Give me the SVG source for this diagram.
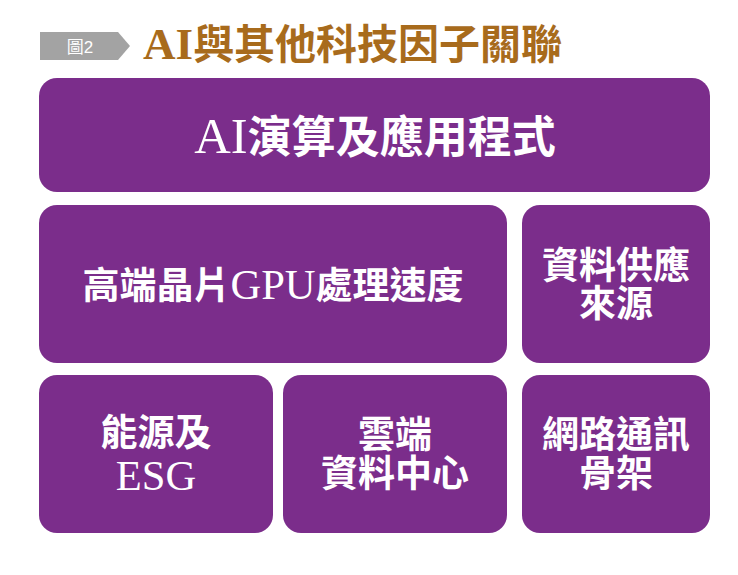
<svg xmlns="http://www.w3.org/2000/svg" width="738" height="575" viewBox="0 0 738 575">
<style>
.box{fill:#7b2d8b}
.t{fill:#fff;font-family:"Liberation Serif","Noto Sans CJK TC",serif;font-weight:bold;text-anchor:middle}
.big{font-size:44px}
.mid{font-size:37px}
.lat{font-weight:normal;font-size:1.15em}
</style>
<rect width="738" height="575" fill="#fff"/>
<g id="header">
<polygon points="40,32 118,32 130,46 118,60 40,60" fill="#a3a3a3"/>
<text x="80" y="53" fill="#fff" font-family="'Liberation Sans','Noto Sans CJK TC',sans-serif" font-size="17" text-anchor="middle">圖2</text>
<text x="143" y="59" fill="#a86b1c" font-family="'Liberation Serif','Noto Sans CJK TC',serif" font-weight="bold" font-size="41"><tspan font-size="1.1em">AI</tspan>與其他科技因子關聯</text>
</g>
<g id="n1"><rect class="box" x="39" y="78" width="671" height="114" rx="18"/><text class="t big" x="375" y="153"><tspan class="lat">AI</tspan>演算及應用程式</text></g>
<g id="n2"><rect class="box" x="39" y="205" width="468" height="158" rx="18"/><text class="t mid" x="273" y="299">高端晶片<tspan class="lat">GPU</tspan>處理速度</text></g>
<g id="n3"><rect class="box" x="522" y="205" width="188" height="158" rx="18"/><text class="t mid" x="616" y="279">資料供應</text><text class="t mid" x="616" y="317">來源</text></g>
<g id="n4"><rect class="box" x="39" y="375" width="234" height="158" rx="18"/><text class="t mid" x="156" y="446">能源及</text><text class="t mid" x="156" y="490"><tspan class="lat">ESG</tspan></text></g>
<g id="n5"><rect class="box" x="283" y="375" width="224" height="158" rx="18"/><text class="t mid" x="395" y="448">雲端</text><text class="t mid" x="395" y="487">資料中心</text></g>
<g id="n6"><rect class="box" x="522" y="375" width="188" height="158" rx="18"/><text class="t mid" x="616" y="448">網路通訊</text><text class="t mid" x="616" y="487">骨架</text></g>
<g id="connectors"></g>
</svg>
